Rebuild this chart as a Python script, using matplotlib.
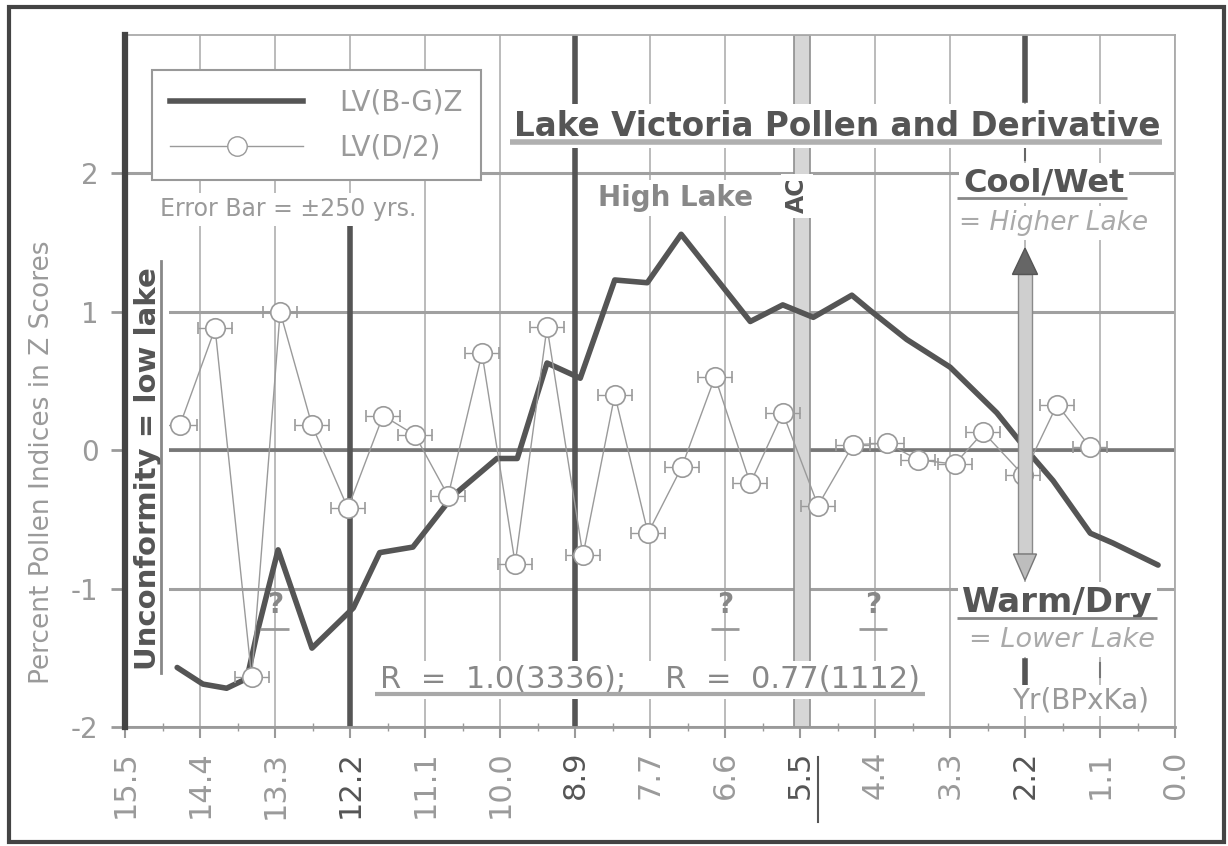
import numpy as np
import matplotlib
matplotlib.use("Agg")
import matplotlib.pyplot as plt
from matplotlib.lines import Line2D
from matplotlib.patches import Rectangle, Polygon

# ---- data -------------------------------------------------------------
# LV(B-G)Z : pollen index (z score) against age (kyr BP)
age_bg = [14.73, 14.35, 14.00, 13.70, 13.55, 13.24, 12.74, 12.13, 11.74, 11.25,
          10.66, 10.01, 9.71, 9.27, 8.78, 8.27, 7.79, 7.29, 6.27, 5.79,
          5.34, 4.77, 4.50, 3.96, 3.32, 2.63, 2.17, 1.80, 1.25, 0.92, 0.25]
z_bg = [-1.57, -1.69, -1.72, -1.65, -1.32, -0.72, -1.43, -1.14, -0.74, -0.70,
        -0.33, -0.06, -0.06, 0.63, 0.52, 1.23, 1.21, 1.56, 0.93, 1.05,
        0.96, 1.12, 1.01, 0.80, 0.60, 0.27, -0.01, -0.22, -0.60, -0.67, -0.83]

# LV(D/2) : derivative series, halved
age_d = [14.69, 14.17, 13.63, 13.21, 12.74, 12.21, 11.69, 11.22, 10.73, 10.23,
         9.74, 9.27, 8.74, 8.27, 7.78, 7.28, 6.79, 6.27, 5.79, 5.27,
         4.75, 4.25, 3.79, 3.25, 2.83, 2.24, 1.74, 1.25]
z_d = [0.18, 0.88, -1.64, 1.00, 0.18, -0.42, 0.25, 0.11, -0.33, 0.70,
       -0.82, 0.89, -0.76, 0.40, -0.60, -0.12, 0.53, -0.24, 0.27, -0.40,
       0.04, 0.05, -0.07, -0.10, 0.13, -0.18, 0.33, 0.02]
age_err = 0.25  # +/- 250 yrs

x_tick_labels = ["15.5", "14.4", "13.3", "12.2", "11.1", "10.0", "8.9", "7.7",
                 "6.6", "5.5", "4.4", "3.3", "2.2", "1.1", "0.0"]
y_ticks = [-2, -1, 0, 1, 2]
emph_labels = ["12.2", "8.9", "5.5", "2.2"]

# ---- figure -----------------------------------------------------------
plt.rcParams["font.family"] = ["DejaVu Sans"]
plt.rcParams["axes.unicode_minus"] = False

DARK = "#555555"
MID = "#888888"
LIGHT = "#9a9a9a"

fig = plt.figure(figsize=(12.28, 8.46), dpi=100)
ax = fig.add_axes([125 / 1228, 1 - 727 / 846, 1050 / 1228, 692 / 846])

x_ticks = np.linspace(15.5, 0.0, len(x_tick_labels))
ax.set_xlim(15.5, 0.0)
ax.set_ylim(-2, 3)

ax.set_xticks(x_ticks)
ax.set_xticklabels(x_tick_labels, rotation=90, fontsize=22, color=LIGHT)
ax.set_xticks((x_ticks[:-1] + x_ticks[1:]) / 2, minor=True)
for lab in ax.get_xticklabels():
    if lab.get_text() in emph_labels:
        lab.set_color(DARK)
ax.set_yticks(y_ticks)
ax.set_yticklabels([str(v) for v in y_ticks], fontsize=20, color=LIGHT)

ax.tick_params(axis="x", which="major", direction="out", length=8, width=1.5,
               color=LIGHT, pad=9)
ax.tick_params(axis="x", which="minor", direction="inout", length=6, width=1,
               color=LIGHT)
ax.tick_params(axis="y", direction="out", length=10, width=2, color=LIGHT, pad=9)

ax.spines["left"].set_color("#444444")
ax.spines["left"].set_linewidth(4.5)
ax.spines["left"].set_zorder(12)
ax.spines["bottom"].set_color(LIGHT)
ax.spines["bottom"].set_linewidth(2)
for s in ("top", "right"):
    ax.spines[s].set_color("#aaaaaa")
    ax.spines[s].set_linewidth(1.3)

# grid
ax.grid(axis="x", which="major", color="#b5b5b5", lw=1.3, zorder=0)
ax.grid(axis="y", which="major", color="#a0a0a0", lw=2.2, zorder=0)
ax.axhline(0, color="#777777", lw=2.6, zorder=1)
ax.set_axisbelow(True)

# AC band
ax.axvspan(5.39, 5.63, facecolor="#d6d6d6", edgecolor="#8f8f8f", lw=1.2, zorder=1)

# heavy reference verticals
ax.axvline(x_ticks[6], color=DARK, lw=4, zorder=2)
ax.plot([x_ticks[3]] * 2, [1.62, -2], color=DARK, lw=4, zorder=2)
ax.plot([x_ticks[12]] * 2, [3.0, 2.53], color=DARK, lw=4, zorder=2)
ax.plot([x_ticks[12]] * 2, [2.21, 2.10], color="#666666", lw=1.5, zorder=2)
ax.plot([x_ticks[12]] * 2, [-1.52, -1.74], color=DARK, lw=4, zorder=2)
ax.plot([x_ticks[13]] * 2, [-1.54, -1.64], color="#777777", lw=1.5, zorder=2)

# series
ax.plot(age_bg, z_bg, color=DARK, lw=4, solid_joinstyle="round",
        solid_capstyle="round", zorder=4)
ax.plot(age_d, z_d, color=LIGHT, lw=1, zorder=5)
ax.errorbar(age_d, z_d, xerr=age_err, fmt="o", ms=14, mfc="white", mec=LIGHT,
            mew=1.2, ecolor=LIGHT, elinewidth=1, capsize=4, capthick=1, zorder=6)

# double-headed gray arrow at 2.2
xa = x_ticks[12]
hw = 0.104
ax.add_patch(Rectangle((xa - hw, -0.75), 2 * hw, 2.02, facecolor="#cfcfcf",
                       edgecolor="#8a8a8a", lw=1, zorder=7))
ax.add_patch(Polygon([[xa, 1.46], [xa - 0.185, 1.27], [xa + 0.185, 1.27]],
                     closed=True, facecolor="#666666", edgecolor="#555555", zorder=8))
ax.add_patch(Polygon([[xa, -0.94], [xa - 0.17, -0.75], [xa + 0.17, -0.75]],
                     closed=True, facecolor="#bdbdbd", edgecolor="#777777", zorder=8))

# ---- legend -----------------------------------------------------------
handles = [Line2D([], [], color=DARK, lw=4),
           Line2D([], [], color=LIGHT, lw=1, marker="o", ms=14, mfc="white",
                  mec=LIGHT)]
leg = ax.legend(handles, ["LV(B-G)Z", "LV(D/2)"], loc="upper left",
                bbox_to_anchor=(0.0257, 0.949), borderaxespad=0, fontsize=20,
                handlelength=4.8, handletextpad=1.3, labelspacing=0.63,
                borderpad=0.65, fancybox=False, framealpha=1, edgecolor="#999999",
                labelcolor=LIGHT)
leg.get_frame().set_linewidth(1.5)
leg.set_zorder(10)

# ---- annotations ------------------------------------------------------
wbox = dict(facecolor="white", edgecolor="none", pad=3)


def underline(x0, x1, y, color="#aaaaaa", lw=3):
    ax.plot([x0, x1], [y, y], color=color, lw=lw, solid_capstyle="butt", zorder=9)


ax.text(14.98, 1.74, "Error Bar = \u00b1250 yrs.", fontsize=17, color=LIGHT,
        ha="left", va="center", bbox=wbox, zorder=9)

ax.text(4.99, 2.34, "Lake Victoria Pollen and Derivative", fontsize=23.5,
        fontweight="bold", color=DARK, ha="center", va="center",
        bbox=dict(facecolor="white", edgecolor="none", pad=4), zorder=9)
underline(9.82, 0.19, 2.227, color="#b0b0b0", lw=4)

ax.text(7.38, 1.82, "High Lake", fontsize=20, fontweight="bold", color=MID,
        ha="center", va="center", bbox=wbox, zorder=9)
ax.text(5.58, 1.84, "AC", fontsize=17, fontweight="bold", color=DARK,
        rotation=90, ha="center", va="center", bbox=wbox, zorder=9)

ax.text(1.93, 1.93, "Cool/Wet", fontsize=23, fontweight="bold", color=DARK,
        ha="center", va="center", bbox=wbox, zorder=9)
underline(3.22, 0.71, 1.82, color="#888888", lw=2)
ax.text(1.80, 1.64, "= Higher Lake", fontsize=19, fontstyle="italic",
        color="#aaaaaa", ha="center", va="center", bbox=wbox, zorder=9)

ax.text(1.74, -1.10, "Warm/Dry", fontsize=24.5, fontweight="bold", color=DARK,
        ha="center", va="center", bbox=wbox, zorder=9)
underline(3.22, 0.27, -1.21, color="#888888", lw=2)
ax.text(1.67, -1.37, "= Lower Lake", fontsize=19.5, fontstyle="italic",
        color="#aaaaaa", ha="center", va="center", bbox=wbox, zorder=9)
ax.text(1.40, -1.81, "Yr(BPxKa)", fontsize=20, color=LIGHT, ha="center",
        va="center", bbox=dict(facecolor="white", edgecolor="none", pad=1),
        zorder=9)

ax.text(7.75, -1.66, "R  =  1.0(3336);    R  =  0.77(1112)", fontsize=22,
        color=MID, ha="center", va="center", bbox=wbox, zorder=9)
underline(11.81, 3.69, -1.76, color="#a8a8a8", lw=3)

ax.text(15.16, -0.13, "Unconformity = low lake", fontsize=21, fontweight="bold",
        color=DARK, rotation=90, ha="center", va="center",
        bbox=dict(facecolor="white", edgecolor="none", pad=5), zorder=9)
ax.plot([14.97, 14.97], [-1.61, 1.37], color="#888888", lw=2, zorder=9)

for qx in (13.29, 6.64, 4.46):
    ax.text(qx, -1.12, "?", fontsize=20, fontweight="bold", color=MID,
            ha="center", va="center", zorder=9)
    underline(qx + 0.21, qx - 0.21, -1.29, color="#999999", lw=2)

# underline beside the rotated 5.5 label
ax.plot([5.27, 5.27], [-2.22, -2.69], color=DARK, lw=1.5, clip_on=False)

fig.text(42 / 1228, 1 - 462 / 846, "Percent Pollen Indices in Z Scores",
         rotation=90, fontsize=19, color=LIGHT, ha="center", va="center")

# outer frame
fig.patches.append(Rectangle((9 / 1228, 1 - 842 / 846), 1215 / 1228, 835 / 846,
                             transform=fig.transFigure, fill=False,
                             edgecolor="#444444", lw=3))

fig.savefig("out.png", dpi=100, facecolor="white")
